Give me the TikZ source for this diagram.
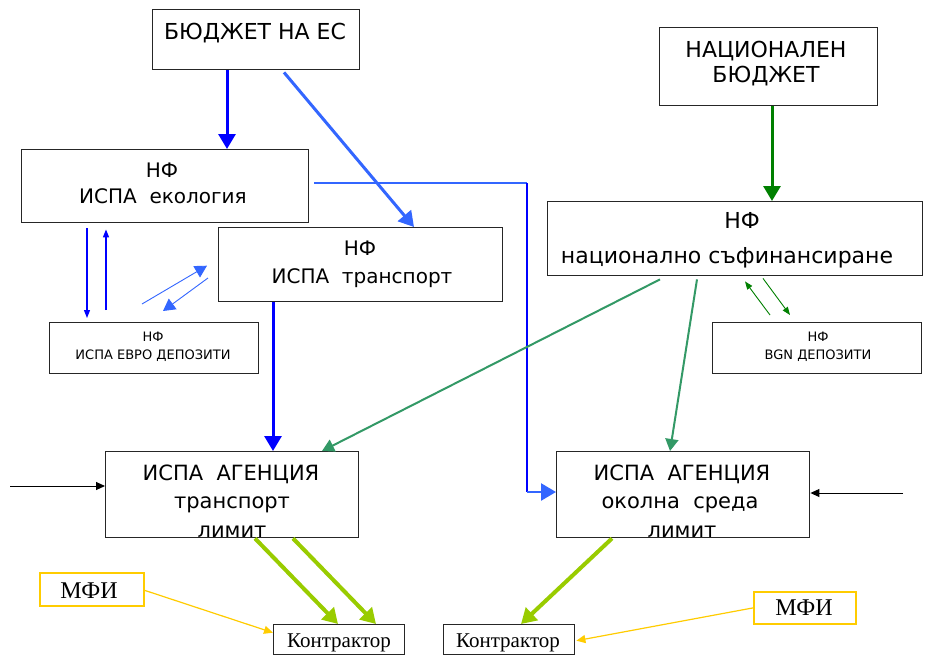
\documentclass[tikz,border=0pt]{standalone}
\usepackage{fontspec}
\setmainfont{Liberation Serif}
\newfontfamily\dsans{DejaVu Sans}
\usetikzlibrary{arrows.meta,calc}
\definecolor{cblue}{HTML}{0000FF}
\definecolor{lblue}{HTML}{3366FF}
\definecolor{dgreen}{HTML}{008000}
\definecolor{sgreen}{HTML}{339966}
\definecolor{ygreen}{HTML}{99CC00}
\definecolor{mfigold}{HTML}{FFCC00}
\newcommand\myfs[1]{\fontsize{#1}{#1}\selectfont}
\begin{document}
\begin{tikzpicture}[x=1pt,y=-1pt,
  box/.style={draw=black!85, line width=1.4pt, inner sep=0pt, anchor=north west},
  ybox/.style={draw=mfigold, line width=1.8pt, inner sep=0pt, anchor=north west},
  lbl/.style={anchor=base, inner sep=0pt, font=\dsans},
  slbl/.style={anchor=base, inner sep=0pt},
  bigtip/.style={-{Triangle[length=15pt,width=17pt]}},
  midtip/.style={-{Triangle[length=12pt,width=13pt]}},
  smalltip/.style={-{Triangle[length=8pt,width=6pt]}},
]
\useasboundingbox (0,0) rectangle (929,656);
\fill[white] (0,0) rectangle (929,656);

% boxes
\node[box, minimum width=207pt, minimum height=60pt] (eu) at (152,9) {};
\node[box, minimum width=218pt, minimum height=78pt] (nb) at (659,27) {};
\node[box, minimum width=287pt, minimum height=73pt] (eco) at (21,149) {};
\node[box, minimum width=284pt, minimum height=74pt] (tr) at (218,227) {};
\node[box, minimum width=375pt, minimum height=74pt] (nat) at (547,201) {};
\node[box, minimum width=209pt, minimum height=51pt] (euro) at (49,322) {};
\node[box, minimum width=209pt, minimum height=51pt] (bgn) at (712,322) {};
\node[box, minimum width=253pt, minimum height=86pt] (agt) at (105,451) {};
\node[box, minimum width=253pt, minimum height=86pt] (age) at (556,451) {};
\node[ybox, minimum width=104pt, minimum height=33pt] (mfil) at (39,572) {};
\node[box, minimum width=131pt, minimum height=30pt] (kl) at (273,624) {};
\node[box, minimum width=131pt, minimum height=30pt] (kr) at (443,624) {};
\node[ybox, minimum width=102pt, minimum height=32pt] (mfir) at (753,591) {};

% texts
\node[lbl, font=\dsans\myfs{22}] (eu-t) at (255,39) {БЮДЖЕТ НА ЕС};
\node[lbl, font=\dsans\myfs{22}] (nb-t1) at (766,57) {НАЦИОНАЛЕН};
\node[lbl, font=\dsans\myfs{22}] (nb-t2) at (766,82) {БЮДЖЕТ};
\node[lbl, font=\dsans\myfs{20}] (eco-t1) at (162,177) {НФ};
\node[lbl, font=\dsans\myfs{20}] (eco-t2) at (163,203) {ИСПА \ екология};
\node[lbl, font=\dsans\myfs{20}] (tr-t1) at (360,255) {НФ};
\node[lbl, font=\dsans\myfs{20}] (tr-t2) at (362,283) {ИСПА \ транспорт};
\node[lbl, font=\dsans\myfs{22}] (nat-t1) at (742,228) {НФ};
\node[lbl, font=\dsans\myfs{22}] (nat-t2) at (727,263) {национално съфинансиране};
\node[lbl, font=\dsans\myfs{13}] (euro-t1) at (153,341) {НФ};
\node[lbl, font=\dsans\myfs{13}] (euro-t2) at (153,359) {ИСПА ЕВРО ДЕПОЗИТИ};
\node[lbl, font=\dsans\myfs{13}] (bgn-t1) at (818,341) {НФ};
\node[lbl, font=\dsans\myfs{13}] (bgn-t2) at (818,359) {BGN ДЕПОЗИТИ};
\node[lbl, font=\dsans\myfs{21}] (agt-t1) at (231,480) {ИСПА \ АГЕНЦИЯ};
\node[lbl, font=\dsans\myfs{21}] (agt-t2) at (232,508) {транспорт};
\node[lbl, font=\dsans\myfs{21}] (agt-t3) at (232,537) {лимит};
\node[lbl, font=\dsans\myfs{21}] (age-t1) at (682,480) {ИСПА \ АГЕНЦИЯ};
\node[lbl, font=\dsans\myfs{21}] (age-t2) at (680,508) {околна \ среда};
\node[lbl, font=\dsans\myfs{21}] (age-t3) at (682,537) {лимит};
\node[slbl, font=\myfs{24}] (mfil-t) at (89,598) {МФИ};
\node[slbl, font=\myfs{21}] (kl-t) at (339,647) {Контрактор};
\node[slbl, font=\myfs{21}] (kr-t) at (508,647) {Контрактор};
\node[slbl, font=\myfs{24}] (mfir-t) at (804,615) {МФИ};

% EU budget arrows
\draw[cblue, line width=3pt, bigtip] (227,0 |- eu.south) -- (227,0 |- eco.north);
\draw[lblue, line width=3pt, bigtip] ($(284,0 |- eu.south)+(0,2)$) -- (414,0 |- tr.north);
% L connector eco -> agency environment
\coordinate (c1) at (527,183);
\coordinate (c2) at (527,492);
\draw[lblue, line width=2.5pt] ($(eco.east |- c1)+(5,0)$) -- (c1);
\draw[cblue, line width=2.5pt] (c1) -- (c2);
\draw[lblue, line width=2.5pt, bigtip] (c2) -- (age.west |- c2);
% transport -> agency transport
\draw[cblue, line width=3pt, bigtip] (273,0 |- tr.south) -- (273,0 |- agt.north);
% thin blue pairs
\draw[cblue, line width=1.3pt, smalltip] ($(87,0 |- eco.south)+(0,5)$) -- ($(87,0 |- euro.north)+(0,-4)$);
\draw[cblue, line width=1.3pt, smalltip] ($(106,0 |- euro.north)+(0,-12)$) -- ($(106,0 |- eco.south)+(0,6)$);
\coordinate (lb1) at (142,304);
\coordinate (lb2) at (208,278);
\draw[lblue, line width=0.9pt, midtip] (lb1) -- ($(tr.west)+(-11,0)+(0,1)$);
\draw[lblue, line width=0.9pt, midtip] (lb2) -- (163,311);
% national budget
\draw[dgreen, line width=3pt, bigtip] (772,0 |- nb.south) -- (772,0 |- nat.north);
\draw[sgreen, line width=2pt, midtip] ($(660,0 |- nat.south)+(0,3)$) -- (322,0 |- agt.north);
\draw[sgreen, line width=2pt, midtip] ($(697,0 |- nat.south)+(0,3)$) -- (670,0 |- age.north);
\draw[dgreen, line width=0.9pt, smalltip] ($(770,0 |- bgn.north)+(0,-7)$) -- ($(745,0 |- nat.south)+(0,5)$);
\draw[dgreen, line width=0.9pt, smalltip] ($(763,0 |- nat.south)+(0,2)$) -- ($(790,0 |- bgn.north)+(0,-7)$);
% side black arrows
\coordinate (bl) at (10,486);
\coordinate (br) at (903,493);
\draw[black, line width=1pt, -{Triangle[length=9pt,width=8pt]}] (bl) -- (agt.west |- bl);
\draw[black, line width=1pt, -{Triangle[length=9pt,width=8pt]}] (br) -- (age.east |- br);
% agencies -> contractors
\draw[ygreen, line width=4pt, bigtip] (255,0 |- agt.south) -- (338,0 |- kl.north);
\draw[ygreen, line width=4pt, bigtip] (293,0 |- agt.south) -- (376,0 |- kl.north);
\draw[ygreen, line width=4pt, bigtip] (612,0 |- age.south) -- (521,0 |- kr.north);
% MFI -> contractors
\draw[mfigold, line width=1.2pt, -{Triangle[length=9pt,width=8pt]}] ($(mfil.east)+(0,1)$) -- ($(kl.west)+(0,-7)$);
\draw[mfigold, line width=1.2pt, -{Triangle[length=9pt,width=8pt]}] (mfir.west) -- ($(kr.east)+(1,1)$);
\end{tikzpicture}
\end{document}
